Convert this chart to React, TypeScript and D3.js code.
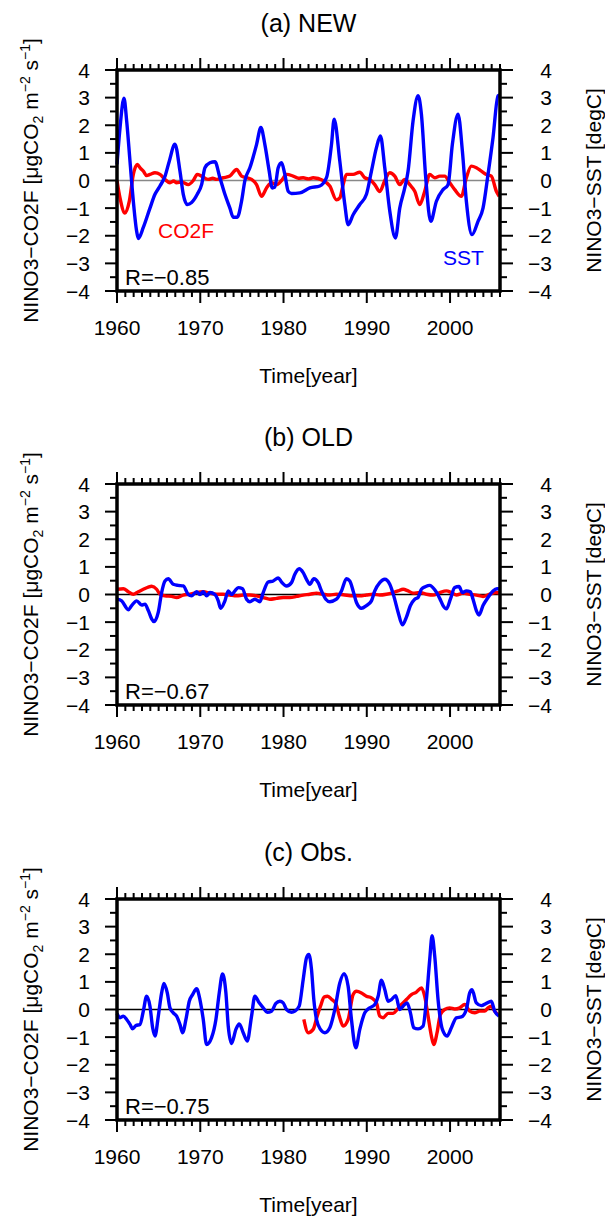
import * as d3 from "d3";

type Pt = [number, number];

// values: [year, value]
const newSst: Pt[] = [
  [1960.0, 0.58], [1960.36, 1.9], [1960.84, 2.98], [1961.16, 2.16], [1961.56, 0.7], [1961.96, -0.75],
  [1962.36, -1.84], [1962.56, -2.1], [1963.16, -1.7], [1963.96, -1.0], [1964.56, -0.5], [1965.16, -0.2],
  [1965.76, 0.15], [1966.28, 0.7], [1966.96, 1.31], [1967.56, 0.34], [1967.96, -0.5], [1968.44, -0.87],
  [1968.96, -0.8], [1969.64, -0.5], [1970.16, -0.15], [1970.56, 0.46], [1971.16, 0.64], [1971.76, 0.68],
  [1972.36, 0.1], [1972.96, -0.5], [1973.56, -1.0], [1973.96, -1.33], [1974.44, -1.33], [1974.96, -0.75],
  [1975.36, 0], [1975.96, 0.46], [1976.76, 1.3], [1977.28, 1.92], [1977.76, 1.3], [1978.28, 0.34],
  [1978.64, -0.27], [1978.96, -0.24], [1979.36, 0.46], [1979.76, 0.64], [1980.16, 0.22], [1980.56, -0.39],
  [1980.96, -0.47], [1981.96, -0.45], [1983.16, -0.27], [1984.36, -0.2], [1985.16, 0.1], [1985.76, 1.3],
  [1986.08, 2.22], [1986.76, 0.7], [1987.36, -0.87], [1987.76, -1.6], [1988.36, -1.24], [1989.16, -0.87],
  [1989.96, -0.5], [1990.56, 0.34], [1991.16, 1.19], [1991.64, 1.61], [1992.16, 0.46], [1992.76, -1.1],
  [1993.44, -2.08], [1993.96, -1.0], [1994.56, -0.27], [1994.96, 0.34], [1995.56, 2.16], [1996.16, 3.07],
  [1996.56, 2.4], [1997.08, 0.1], [1997.68, -1.48], [1998.36, -0.75], [1999.16, -0.33], [1999.76, -0.15],
  [2000.28, 1.31], [2000.96, 2.4], [2001.48, 1.07], [2001.96, -0.75], [2002.64, -1.96], [2003.36, -1.48],
  [2003.96, -1.0], [2004.56, 0.22], [2005.16, 1.55], [2005.76, 3.07], [2006.0, 3.1],
];

const newCo2f: Pt[] = [
  [1960.0, 0], [1960.36, -0.63], [1960.96, -1.18], [1961.48, -0.75], [1961.96, 0.22], [1962.44, 0.58],
  [1962.8, 0.45], [1963.16, 0.34], [1963.56, 0.18], [1963.96, 0.22], [1964.56, 0.28], [1965.16, 0.22],
  [1965.76, 0.04], [1966.36, -0.08], [1966.8, -0.02], [1967.16, -0.08], [1967.76, -0.05], [1968.56, -0.15],
  [1969.16, 0], [1969.64, 0.22], [1970.16, 0.16], [1970.96, 0.04], [1971.5, 0.08], [1971.96, 0.04],
  [1972.76, 0.1], [1973.56, 0.16], [1974.36, 0.4], [1974.96, 0.16], [1975.56, 0.1], [1976.16, 0.04],
  [1976.76, -0.15], [1977.36, -0.57], [1977.96, -0.27], [1978.56, -0.08], [1979.16, -0.15], [1979.76, 0],
  [1980.36, 0.22], [1981.16, 0.16], [1981.8, 0.08], [1982.36, 0.1], [1983.0, 0.06], [1983.56, 0.1],
  [1984.76, 0], [1985.56, -0.2], [1986.36, -0.7], [1986.76, -0.63], [1987.16, -0.15], [1987.56, 0.22],
  [1988.36, 0.22], [1989.16, 0.3], [1989.76, 0.1], [1990.36, 0.04], [1990.96, -0.15], [1991.56, -0.4],
  [1992.16, 0], [1992.76, 0.28], [1993.36, 0.16], [1993.96, -0.15], [1994.56, 0.04], [1995.16, -0.15],
  [1995.76, -0.39], [1996.36, -0.87], [1996.96, -0.39], [1997.56, 0.22], [1998.16, 0.1], [1998.76, 0.16],
  [1999.36, 0.16], [1999.96, -0.08], [2000.56, -0.33], [2001.36, -0.57], [2001.96, 0.1], [2002.56, 0.52],
  [2003.16, 0.46], [2003.76, 0.34], [2004.36, 0.22], [2004.96, 0.16], [2005.56, -0.39], [2005.9, -0.57],
];

const oldSst: Pt[] = [
  [1960.0, -0.17], [1960.56, -0.23], [1961.36, -0.55], [1961.76, -0.4], [1962.36, -0.23], [1962.96, -0.38],
  [1963.36, -0.35], [1963.76, -0.58], [1964.16, -0.88], [1964.44, -0.98], [1964.96, -0.64], [1965.36, 0.07],
  [1965.76, 0.49], [1966.16, 0.57], [1966.76, 0.37], [1967.36, 0.33], [1967.96, 0.31], [1968.56, 0],
  [1968.96, -0.05], [1969.56, 0.1], [1969.96, 0], [1970.36, 0.1], [1970.76, -0.05], [1971.16, 0.07],
  [1971.76, 0], [1972.16, -0.23], [1972.44, -0.5], [1972.96, -0.23], [1973.36, 0.13], [1973.76, 0],
  [1974.16, 0.13], [1974.56, 0.25], [1975.08, 0.21], [1975.56, -0.17], [1975.96, -0.26], [1976.56, -0.17],
  [1977.16, -0.26], [1977.56, 0.07], [1978.16, 0.45], [1978.76, 0.49], [1979.36, 0.6], [1979.76, 0.45],
  [1980.36, 0.31], [1980.96, 0.43], [1981.36, 0.73], [1981.88, 0.93], [1982.36, 0.79], [1982.76, 0.55],
  [1983.16, 0.37], [1983.64, 0.57], [1984.16, 0.43], [1984.56, 0.13], [1985.08, -0.17], [1985.56, -0.26],
  [1986.36, -0.17], [1986.96, 0.13], [1987.56, 0.57], [1987.96, 0.49], [1988.36, 0.13], [1988.76, -0.29],
  [1989.36, -0.5], [1989.96, -0.4], [1990.56, -0.23], [1990.96, 0.13], [1991.56, 0.43], [1992.16, 0.55],
  [1992.76, 0.37], [1993.24, -0.05], [1993.76, -0.64], [1994.28, -1.1], [1994.76, -0.82], [1995.24, -0.4],
  [1995.76, -0.17], [1996.16, -0.11], [1996.56, 0.19], [1997.08, 0.29], [1997.56, 0.33], [1998.16, 0.17],
  [1998.76, -0.14], [1999.16, -0.4], [1999.56, -0.52], [2000.04, -0.17], [2000.56, 0.25], [2001.08, 0.29],
  [2001.48, 0.07], [2001.96, 0.13], [2002.44, 0.1], [2002.76, -0.17], [2003.16, -0.58], [2003.48, -0.74],
  [2003.96, -0.4], [2004.56, -0.11], [2005.16, 0.13], [2005.64, 0.21], [2006.0, 0.2],
];

const oldCo2f: Pt[] = [
  [1960.0, 0.19], [1960.76, 0.21], [1961.36, 0.1], [1961.96, 0.01], [1962.56, 0.1], [1963.16, 0.19],
  [1963.76, 0.27], [1964.16, 0.3], [1964.76, 0.19], [1965.16, 0.01], [1965.76, -0.05], [1966.56, -0.07],
  [1967.16, -0.11], [1967.96, -0.02], [1968.76, 0.01], [1969.56, 0.07], [1970.36, 0.1], [1971.16, 0.05],
  [1971.96, 0.01], [1972.76, 0.01], [1973.56, -0.02], [1974.36, -0.05], [1975.16, -0.02], [1975.96, -0.02],
  [1976.76, -0.05], [1977.56, -0.11], [1978.36, -0.17], [1979.16, -0.14], [1979.96, -0.11], [1980.76, -0.11],
  [1981.56, -0.07], [1982.36, -0.02], [1983.16, 0.01], [1983.96, 0.05], [1984.76, 0.01], [1985.56, -0.02],
  [1986.36, 0.01], [1987.16, -0.01], [1988.36, -0.05], [1989.16, -0.05], [1989.96, -0.02], [1990.76, 0.01],
  [1991.56, -0.02], [1992.36, 0.01], [1993.16, 0.07], [1993.76, 0.13], [1994.36, 0.19], [1994.96, 0.13],
  [1995.56, 0.05], [1996.36, 0.07], [1997.16, 0.01], [1997.96, -0.02], [1998.76, 0.07], [1999.56, 0.13],
  [2000.16, 0.07], [2000.76, -0.02], [2001.56, 0.05], [2002.36, 0.01], [2003.16, -0.02], [2003.96, -0.07],
  [2004.76, 0.01], [2005.56, 0.07], [2006.0, 0.05],
];

const obsSst: Pt[] = [
  [1960.0, -0.14], [1960.36, -0.3], [1960.76, -0.24], [1961.16, -0.36], [1961.56, -0.54], [1961.88, -0.7],
  [1962.28, -0.58], [1962.76, -0.54], [1963.16, -0.06], [1963.56, 0.48], [1963.96, 0.12], [1964.28, -0.66],
  [1964.56, -0.96], [1964.96, -0.24], [1965.36, 0.6], [1965.64, 0.94], [1966.04, 0.6], [1966.36, 0.06],
  [1966.76, -0.12], [1967.16, -0.24], [1967.56, -0.54], [1967.88, -0.84], [1968.28, -0.36], [1968.68, 0.3],
  [1969.08, 0.54], [1969.56, 0.75], [1969.96, 0.36], [1970.36, -0.36], [1970.76, -1.27], [1971.36, -1.02],
  [1971.88, -0.36], [1972.28, 0.6], [1972.68, 1.29], [1973.08, 0.6], [1973.36, -0.6], [1973.76, -1.23],
  [1974.28, -0.72], [1974.68, -0.52], [1975.16, -0.84], [1975.64, -1.14], [1976.16, -0.24], [1976.56, 0.48],
  [1977.08, 0.24], [1977.56, 0.06], [1978.04, -0.1], [1978.56, -0.06], [1979.08, 0.22], [1979.56, 0.3],
  [1979.96, 0.24], [1980.36, 0], [1980.96, -0.1], [1981.36, -0.06], [1981.88, 0.12], [1982.36, 1.08],
  [1982.76, 1.87], [1983.04, 1.99], [1983.36, 1.45], [1983.64, 0.36], [1983.96, -0.36], [1984.44, -0.72],
  [1984.96, -0.84], [1985.56, -0.66], [1986.16, 0], [1986.76, 0.96], [1987.28, 1.3], [1987.76, 0.84],
  [1988.16, -0.36], [1988.68, -1.39], [1989.16, -0.72], [1989.76, -0.12], [1990.36, 0.06], [1990.96, 0.18],
  [1991.36, 0.48], [1991.76, 1.06], [1992.16, 0.72], [1992.56, 0.3], [1992.96, 0.36], [1993.48, 0.5],
  [1993.96, 0], [1994.36, 0.12], [1994.84, 0.24], [1995.24, -0.12], [1995.64, -0.66], [1996.16, -0.7],
  [1996.76, -0.6], [1997.16, 0.36], [1997.56, 1.81], [1997.84, 2.67], [1998.16, 1.93], [1998.56, 0.36],
  [1999.08, -0.72], [1999.64, -0.96], [2000.16, -0.66], [2000.76, -0.3], [2001.36, -0.27], [2001.96, 0],
  [2002.36, 0.6], [2002.64, 0.72], [2003.16, 0.24], [2003.76, 0.14], [2004.36, 0.22], [2004.96, 0.3],
  [2005.36, -0.06], [2005.88, -0.24],
];

const obsCo2f: Pt[] = [
  [1982.44, -0.36], [1982.96, -0.84], [1983.56, -0.72], [1984.04, -0.24], [1984.44, 0.12], [1984.9, 0.46],
  [1985.3, 0.48], [1985.8, 0.36], [1986.3, 0.2], [1986.7, -0.24], [1987.16, -0.6], [1987.76, -0.36],
  [1988.36, 0.54], [1988.76, 0.66], [1989.36, 0.6], [1989.96, 0.48], [1990.56, 0.42], [1991.16, 0.24],
  [1991.56, -0.24], [1991.96, -0.3], [1992.56, -0.14], [1993.16, -0.14], [1993.64, 0], [1994.16, 0.18],
  [1994.76, 0.36], [1995.36, 0.54], [1995.96, 0.63], [1996.56, 0.78], [1996.96, 0.48], [1997.36, -0.24],
  [1997.76, -0.96], [1998.04, -1.27], [1998.44, -0.84], [1998.84, -0.18], [1999.36, 0], [1999.96, 0.06],
  [2000.56, 0.02], [2001.16, 0.06], [2001.76, 0.18], [2002.36, -0.06], [2002.96, -0.12], [2003.56, -0.06],
  [2004.16, -0.06], [2004.56, 0.06], [2004.96, 0.12], [2005.36, -0.06], [2005.76, -0.18],
];

const panelTitles = ["(a) NEW", "(b) OLD", "(c) Obs."];
const correlations = ["R=\u22120.85", "R=\u22120.67", "R=\u22120.75"];
const xMajorTicks = [1960, 1970, 1980, 1990, 2000];
const yMajorTicks = [-4, -3, -2, -1, 0, 1, 2, 3, 4];

const font = "'Liberation Sans', Arial, Helvetica, sans-serif";
const panelTops = [70, 484, 899];
const panelH = 221;
const left = 117;
const right = 500;

const x = d3.scaleLinear().domain([1960, 2006]).range([left, right]);
const minorX = d3.range(1960, 2007, 1);
const minorY = d3.range(-3.5, 4, 1);

const fmt = (v: number) => (v < 0 ? "\u2212" + Math.abs(v) : String(v));

function Panel({ idx, sst, co2f, zeroColor, legend }: { idx: number; sst: Pt[]; co2f: Pt[]; zeroColor: string; legend: boolean }) {
  const top = panelTops[idx];
  const bottom = top + panelH;
  const y = d3.scaleLinear().domain([-4, 4]).range([bottom, top]);
  const line = d3.line<Pt>().x((d) => x(d[0])).y((d) => y(d[1])).curve(d3.curveMonotoneX);
  const cy = (top + bottom) / 2;
  const cx = (left + right) / 2;
  return (
    <g fontFamily={font}>
      <text x={cx} y={top - 38} fontSize={25} textAnchor="middle">{panelTitles[idx]}</text>
      <line x1={left} x2={right} y1={y(0)} y2={y(0)} stroke={zeroColor} strokeWidth={1.5} />
      <path d={line(co2f) || ""} fill="none" stroke="#ff0000" strokeWidth={3.4} strokeLinejoin="round" />
      <path d={line(sst) || ""} fill="none" stroke="#0000ff" strokeWidth={3.4} strokeLinejoin="round" />
      {/* ticks */}
      {minorX.map((t) => {
        const maj = xMajorTicks.includes(t);
        const len = maj ? 12 : 6;
        return (
          <g key={"x" + t}>
            <line x1={x(t)} x2={x(t)} y1={top} y2={top - len} stroke="#000" strokeWidth={2} />
            <line x1={x(t)} x2={x(t)} y1={bottom} y2={bottom + len} stroke="#000" strokeWidth={2} />
          </g>
        );
      })}
      {yMajorTicks.map((t) => (
        <g key={"y" + t}>
          <line x1={left} x2={left - 12} y1={y(t)} y2={y(t)} stroke="#000" strokeWidth={2} />
          <line x1={right} x2={right + 13} y1={y(t)} y2={y(t)} stroke="#000" strokeWidth={2} />
          <text x={90} y={y(t)} dy="0.36em" fontSize={21} textAnchor="end">{fmt(t)}</text>
          <text x={552} y={y(t)} dy="0.36em" fontSize={21} textAnchor="end">{fmt(t)}</text>
        </g>
      ))}
      {minorY.map((t) => (
        <g key={"ym" + t}>
          <line x1={left} x2={left - 7} y1={y(t)} y2={y(t)} stroke="#000" strokeWidth={2} />
          <line x1={right} x2={right + 7} y1={y(t)} y2={y(t)} stroke="#000" strokeWidth={2} />
        </g>
      ))}
      <rect x={left} y={top} width={right - left} height={panelH} fill="none" stroke="#000" strokeWidth={3.5} />
      {xMajorTicks.map((t) => (
        <text key={"xl" + t} x={x(t)} y={bottom + 44} fontSize={21} textAnchor="middle">{t}</text>
      ))}
      <text x={cx} y={bottom + 92} fontSize={21} textAnchor="middle">Time[year]</text>
      <text x={125} y={bottom - 6} fontSize={22}>{correlations[idx]}</text>
      {legend && (
        <>
          <text x={158} y={top + 168} fontSize={21} fill="#ff0000">CO2F</text>
          <text x={443} y={top + 195} fontSize={21} fill="#0000ff">SST</text>
        </>
      )}
      <text transform={`translate(38,${cy}) rotate(-90)`} fontSize={21} textAnchor="middle">
        NINO3{"\u2212"}CO2F [{"\u03bc"}gCO<tspan dy={5} fontSize={14}>2</tspan>
        <tspan dy={-5}> m</tspan>
        <tspan dy={-8} fontSize={14}>{"\u2212"}2</tspan>
        <tspan dy={8}> s</tspan>
        <tspan dy={-8} fontSize={14}>{"\u2212"}1</tspan>
        <tspan dy={8}>]</tspan>
      </text>
      <text transform={`translate(601,${cy}) rotate(-90)`} fontSize={21} textAnchor="middle">
        NINO3{"\u2212"}SST [degC]
      </text>
    </g>
  );
}

export default function App() {
  return (
    <svg width={605} height={1220} style={{ position: "absolute", left: 0, top: 0, background: "#fff" }}>
      <rect width={605} height={1220} fill="#fff" />
      <Panel idx={0} sst={newSst} co2f={newCo2f} zeroColor="#888" legend={true} />
      <Panel idx={1} sst={oldSst} co2f={oldCo2f} zeroColor="#000" legend={false} />
      <Panel idx={2} sst={obsSst} co2f={obsCo2f} zeroColor="#000" legend={false} />
    </svg>
  );
}
